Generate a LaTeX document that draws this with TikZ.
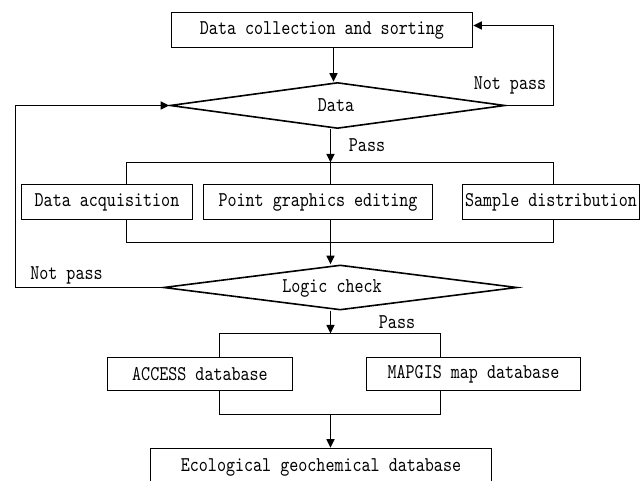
\documentclass[tikz,border=0pt]{standalone}
\usepackage{fontspec}
\newfontfamily\diagfont{lmmono10-regular.otf}[FakeStretch=0.82]
\usetikzlibrary{shapes.geometric,arrows.meta}
\begin{document}
\begin{tikzpicture}[x=1pt,y=-1pt,line width=1.6pt,
  every node/.style={font={\diagfont\fontsize{21}{24}\selectfont}},
  box/.style={draw,rectangle,inner sep=0pt,minimum height=35pt},
  dia/.style={draw,diamond,aspect=7,inner sep=0pt},
  lbl/.style={inner sep=0pt},
  arr/.style={-{Triangle[length=8.5pt,width=8pt]}}]
\useasboundingbox (0,0) rectangle (641,481);
\clip (0,0) rectangle (641,481);
% nodes
\node[box,minimum width=301pt] (top) at (322,30) {Data collection and sorting};
\node[dia,minimum width=335pt,minimum height=46pt] (d1) at (337.5,105.5) {};
\node[lbl] (d1t) at (336,105) {Data};
\node[lbl] (np1) at (510,85) {Not pass};
\node[lbl] (p1) at (367,145) {Pass};
\node[box,minimum width=171pt] (b1) at (107,202) {Data acquisition};
\node[box,minimum width=229pt] (b2) at (318,202) {Point graphics editing};
\node[box,minimum width=177pt] (b3) at (551,202) {Sample distribution};
\node[dia,minimum width=353.5pt,minimum height=45pt] (d2) at (340.25,287.5) {};
\node[lbl] (d2t) at (332,288) {Logic check};
\node[lbl] (np2) at (66.5,275) {Not pass};
\node[lbl] (p2) at (397,322) {Pass};
\node[box,minimum width=185pt,minimum height=33pt] (acc) at (200,374) {ACCESS database};
\node[box,minimum width=214pt,minimum height=33pt] (map) at (473.5,374) {MAPGIS map database};
\node[box,minimum width=341pt,minimum height=38pt] (eco) at (321,467.5) {Ecological geochemical database};
% coordinates
\coordinate (a1) at (333.5,0);
\coordinate (sp) at (330.5,0);
\coordinate (j1) at (330.5,162.5);
\coordinate (j1l) at (126.5,162.5);
\coordinate (j1r) at (553.5,162.5);
\coordinate (j2) at (330.5,242.5);
\coordinate (j2l) at (126.5,242.5);
\coordinate (j2r) at (553.5,242.5);
\coordinate (j3) at (330.5,333.5);
\coordinate (j3l) at (219.5,333.5);
\coordinate (j3r) at (440.5,333.5);
\coordinate (j4) at (330.5,414.5);
\coordinate (j4l) at (219.5,414.5);
\coordinate (j4r) at (440.5,414.5);
\coordinate (r1) at (553.5,25.5);
\coordinate (l1) at (15.5,105.5);
% connectors
\draw[arr] (top.south -| a1) -- (d1.north -| a1);
\draw[arr] (d1.east) -| (r1) -- (r1 -| top.east);
\draw[arr] (d1.south -| sp) -- (j1);
\draw (j1l) -- (j1r);
\draw (j1l) -- (b1.north -| j1l);
\draw (j1) -- (b2.north -| j1);
\draw (j1r) -- (b3.north -| j1r);
\draw (b1.south -| j2l) -- (j2l) -- (j2r) -- (b3.south -| j2r);
\draw (b2.south -| j2) -- (j2);
\draw[arr] (j2) -- (d2.north -| j2);
\draw[arr] (d2.west) -| (l1) -- (d1.west);
\draw[arr] (d2.south -| sp) -- (j3);
\draw (j3l) -- (j3r);
\draw (j3l) -- (acc.north -| j3l);
\draw (j3r) -- (map.north -| j3r);
\draw (acc.south -| j4l) -- (j4l) -- (j4r) -- (map.south -| j4r);
\draw[arr] (j4) -- (eco.north -| j4);
\end{tikzpicture}
\end{document}
